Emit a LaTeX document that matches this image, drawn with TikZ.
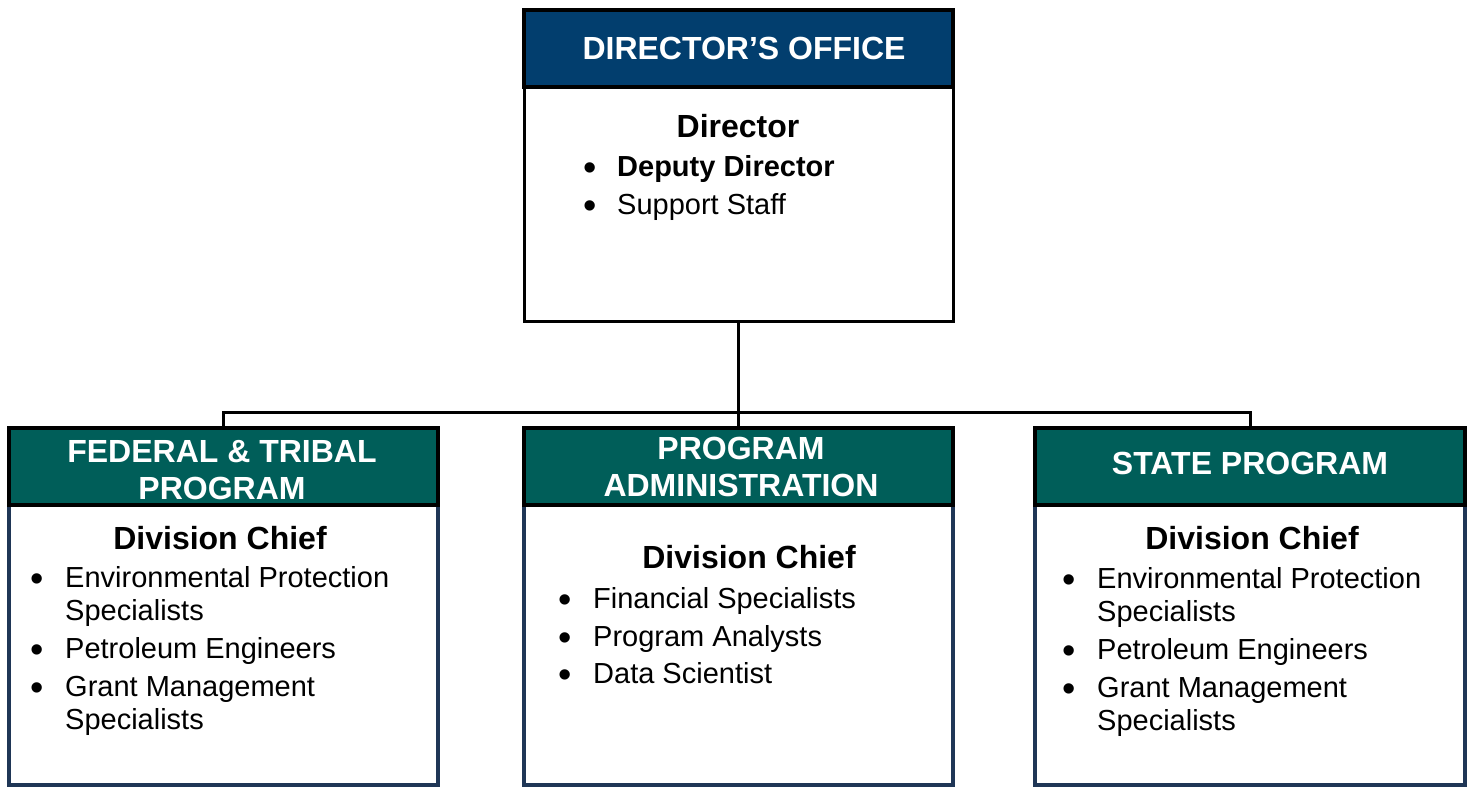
\documentclass[tikz,border=0pt]{standalone}
\usepackage{fontspec}
\setmainfont{Liberation Sans}
\definecolor{navyhdr}{RGB}{2,62,110}
\definecolor{tealhdr}{RGB}{0,94,89}
\definecolor{bodyedge}{RGB}{31,54,86}
\tikzset{
  hdrbox/.style={draw=black, line width=3.5pt, inner sep=0pt, outer sep=0pt, anchor=north west},
  navyhead/.style={hdrbox, fill=navyhdr},
  tealhead/.style={hdrbox, fill=tealhdr},
  dirbody/.style={draw=black, line width=3pt, fill=white, inner sep=0pt, outer sep=0pt, anchor=north west},
  divbody/.style={draw=bodyedge, line width=3.5pt, fill=white, inner sep=0pt, outer sep=0pt, anchor=north west},
  hdrtext/.style={anchor=base, inner sep=0pt, text=white, font=\fontsize{32}{37}\selectfont\bfseries},
  titletext/.style={anchor=base, inner sep=0pt, font=\fontsize{32}{37}\selectfont\bfseries},
  itemtext/.style={anchor=base west, inner sep=0pt, font=\fontsize{29}{33}\selectfont},
  bullettext/.style={anchor=base, inner sep=0pt, yshift=-3.5pt, font=\fontsize{38}{40}\selectfont},
  link/.style={draw=black, line width=3pt}
}
\begin{document}
\begin{tikzpicture}[x=1pt,y=-1pt]
\useasboundingbox (0,0) rectangle (1473,787);

% boxes
\node[dirbody, minimum width=429pt, minimum height=234pt] (dirb) at (524,87) {};
\node[navyhead, minimum width=429pt, minimum height=77pt] (dirh) at (524,10) {};

\node[divbody, minimum width=429pt, minimum height=280pt] (fedb) at (9,505) {};
\node[divbody, minimum width=429pt, minimum height=280pt] (admb) at (524,505) {};
\node[divbody, minimum width=430pt, minimum height=280pt] (stab) at (1035,505) {};

\node[tealhead, minimum width=429pt, minimum height=77pt] (fedh) at (9,428) {};
\node[tealhead, minimum width=429pt, minimum height=77pt] (admh) at (524,428) {};
\node[tealhead, minimum width=430pt, minimum height=77pt] (stah) at (1035,428) {};

% connectors
\draw[link] (dirb.south) -- (admh.north);
\draw[link] (fedh.north) |- (dirb.south |- 0,412) -| (stah.north);

% header texts
\node[hdrtext] (t0) at (744,59) {DIRECTOR’S OFFICE};
\node[hdrtext] (t1) at (222,462.5) {FEDERAL \& TRIBAL};
\node[hdrtext] (t2) at (222,499) {PROGRAM};
\node[hdrtext] (t3) at (741,459.5) {PROGRAM};
\node[hdrtext] (t4) at (741,496) {ADMINISTRATION};
\node[hdrtext] (t5) at (1250,474.5) {STATE PROGRAM};

% director body
\node[titletext] (d0) at (738,137.5) {Director};
\node[bullettext] (db1) at (590,176.5) {•};
\node[itemtext, font=\fontsize{29}{33}\selectfont\bfseries] (d1) at (617,176.5) {Deputy Director};
\node[bullettext] (db2) at (590,214.5) {•};
\node[itemtext] (d2) at (617,214.5) {Support Staff};

% federal & tribal body
\node[titletext] (f0) at (220,549) {Division Chief};
\node[bullettext] (fb1) at (37,587.5) {•};
\node[itemtext] (f1) at (65,587.5) {Environmental Protection};
\node[itemtext] (f1b) at (65,620.5) {Specialists};
\node[bullettext] (fb2) at (37,658.5) {•};
\node[itemtext] (f2) at (65,658.5) {Petroleum Engineers};
\node[bullettext] (fb3) at (37,696.5) {•};
\node[itemtext] (f3) at (65,696.5) {Grant Management};
\node[itemtext] (f3b) at (65,729.5) {Specialists};

% program administration body
\node[titletext] (a0) at (749,568.5) {Division Chief};
\node[bullettext] (ab1) at (565,608.5) {•};
\node[itemtext] (a1) at (593,608.5) {Financial Specialists};
\node[bullettext] (ab2) at (565,646.5) {•};
\node[itemtext] (a2) at (593,646.5) {Program Analysts};
\node[bullettext] (ab3) at (565,683.5) {•};
\node[itemtext] (a3) at (593,683.5) {Data Scientist};

% state program body
\node[titletext] (s0) at (1252,549.5) {Division Chief};
\node[bullettext] (sb1) at (1069,588.5) {•};
\node[itemtext] (s1) at (1097,588.5) {Environmental Protection};
\node[itemtext] (s1b) at (1097,621.5) {Specialists};
\node[bullettext] (sb2) at (1069,659.5) {•};
\node[itemtext] (s2) at (1097,659.5) {Petroleum Engineers};
\node[bullettext] (sb3) at (1069,697.5) {•};
\node[itemtext] (s3) at (1097,697.5) {Grant Management};
\node[itemtext] (s3b) at (1097,730.5) {Specialists};
\end{tikzpicture}
\end{document}
